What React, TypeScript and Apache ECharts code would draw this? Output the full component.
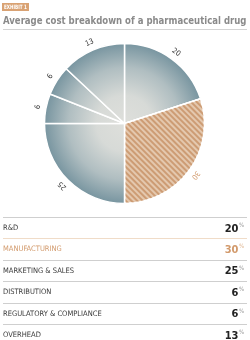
import React, { useEffect, useRef } from "react";
import * as echarts from "echarts";

const categories = ["R&D", "MANUFACTURING", "MARKETING & SALES", "DISTRIBUTION", "REGULATORY & COMPLIANCE", "OVERHEAD"];
const values = [20, 30, 25, 6, 6, 13];
const highlightIndex = 1;
const titleText = "Average cost breakdown of a pharmaceutical drug";
const exhibitText = "EXHIBIT 1";

const ORANGE = "#d29a6c";
const CX = 124.5;
const CY = 123.5;
const R = 80;

function measure(text: string, font: string) {
  const c = document.createElement("canvas").getContext("2d")!;
  c.font = font;
  return c.measureText(text).width;
}

export default function App() {
  const ref = useRef<HTMLDivElement>(null);
  useEffect(() => {
    const chart = echarts.init(ref.current!, null, { renderer: "svg" });
    const total = values.reduce((a, b) => a + b, 0);
    let cum = 0;
    const mids = values.map((v) => {
      const m = ((cum + v / 2) / total) * 360;
      cum += v;
      return m;
    });
    const grad = {
      type: "radial",
      x: CX,
      y: CY,
      r: R,
      global: true,
      colorStops: [
        { offset: 0, color: "#dedfdb" },
        { offset: 0.35, color: "#d7dad7" },
        { offset: 0.7, color: "#b0bec1" },
        { offset: 1, color: "#7895a0" },
      ],
    };
    const pieData = values.map((v, i) => ({
      value: v,
      name: categories[i],
      itemStyle:
        i === highlightIndex
          ? {
              color: "#e4c8ae",
              decal: {
                symbol: "rect",
                symbolSize: 1,
                color: "#cd9c74",
                dashArrayX: [1, 0],
                dashArrayY: [1.4, 1.6],
                rotation: Math.PI / 4,
              },
            }
          : { color: grad },
    }));
    const labelData = values.map((v, i) => ({
      value: v,
      name: categories[i],
      label: {
        rotate: -mids[i],
        color: i === highlightIndex ? ORANGE : "#333",
      },
    }));

    const titleFont = "bold 11px 'DejaVu Sans Condensed'";
    const titleScale = 244 / measure(titleText, titleFont);
    const exFont = "bold 6px 'DejaVu Sans Condensed'";
    const exScale = Math.min(1, 23 / measure(exhibitText, exFont));

    const rowTop = 217;
    const rowH = 21.4;
    const graphics: any[] = [
      { type: "rect", shape: { x: 2, y: 3, width: 27, height: 8 }, style: { fill: "#d9a273" } },
      {
        type: "text",
        x: 15.5,
        y: 7.2,
        scaleX: exScale,
        style: { text: exhibitText, fill: "#fff", font: exFont, align: "center", verticalAlign: "middle" },
      },
      {
        type: "text",
        x: 3,
        y: 19.5,
        scaleX: titleScale,
        style: {
          text: titleText,
          fill: "#8a8a8a",
          font: titleFont,
          verticalAlign: "middle",
        },
      },
      { type: "line", shape: { x1: 3, y1: 29.5, x2: 247, y2: 29.5 }, style: { stroke: "#d4d4d4", lineWidth: 1 } },
    ];
    categories.forEach((c, i) => {
      const top = rowTop + i * rowH;
      const hl = i === highlightIndex;
      const lineColor = i === highlightIndex ? "#f0dcc8" : "#cfcfcf";
      graphics.push({
        type: "line",
        shape: { x1: 3, y1: Math.round(top) + 0.5, x2: 247, y2: Math.round(top) + 0.5 },
        style: { stroke: lineColor, lineWidth: 1 },
      });
      const cy = top + 10.5;
      graphics.push({
        type: "text",
        x: 3,
        y: cy,
        style: { text: c, fill: hl ? ORANGE : "#3a3a3a", font: "7.5px 'DejaVu Sans Condensed'", verticalAlign: "middle" },
      });
      graphics.push({
        type: "text",
        x: 238.5,
        y: cy + 0.5,
        style: { text: String(values[i]), fill: hl ? ORANGE : "#222", font: "bold 11px 'DejaVu Sans Condensed'", align: "right", verticalAlign: "middle" },
      });
      graphics.push({
        type: "text",
        x: 239,
        y: cy - 3,
        style: { text: "%", fill: hl ? "#e0b894" : "#9a9a9a", font: "6px 'DejaVu Sans Condensed'", align: "left", verticalAlign: "middle" },
      });
    });
    chart.setOption({
      animation: false,
      graphic: graphics,
      series: [
        {
          type: "pie",
          center: [CX, CY],
          radius: [0, R],
          startAngle: 90,
          clockwise: true,
          silent: true,
          label: { show: false },
          labelLine: { show: false },
          itemStyle: { borderColor: "#fff", borderWidth: 1.5 },
          data: pieData,
        },
        {
          type: "pie",
          center: [CX, CY],
          radius: [R, R + 11],
          startAngle: 90,
          clockwise: true,
          silent: true,
          itemStyle: { color: "rgba(0,0,0,0)" },
          label: {
            show: true,
            position: "inside",
            formatter: "{c}",
            fontSize: 7.5,
            fontFamily: "'DejaVu Sans Condensed'",
          },
          labelLine: { show: false },
          data: labelData,
        },
      ],
    });
    return () => chart.dispose();
  }, []);
  return <div ref={ref} style={{ position: "fixed", left: 0, top: 0, width: 250, height: 340 }} />;
}
